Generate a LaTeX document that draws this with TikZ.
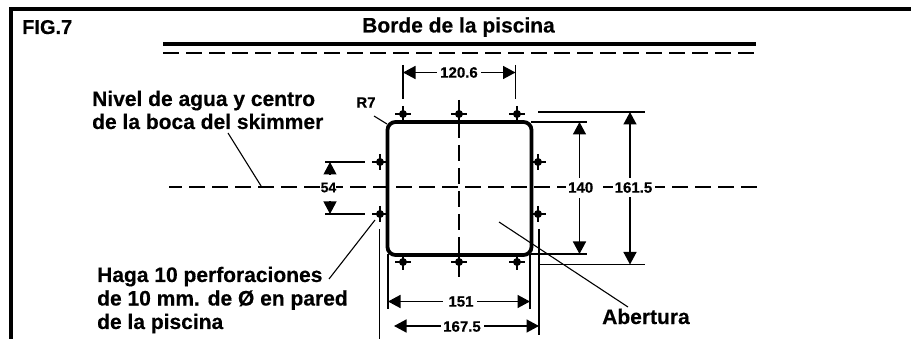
\documentclass[tikz,border=0pt]{standalone}
\usepackage{fontspec}
\setmainfont[BoldFeatures={FakeBold=0.4}]{Liberation Sans}
\usetikzlibrary{arrows.meta}
\tikzset{
  x=1pt,y=-1pt,
  thin line/.style={line width=1.1pt,black},
  dim/.style={line width=1.5pt,black,{Triangle[length=12.5pt,width=13pt]}-{Triangle[length=12.5pt,width=13pt]}},
  center line/.style={line width=2pt,black,dash pattern=on 16pt off 7pt},
  water line/.style={center line,dash phase=3pt},
  lab/.style={font=\bfseries\fontsize{21}{24}\selectfont,inner sep=0pt,anchor=base west},
  dimlab/.style={font=\bfseries\fontsize{15}{17}\selectfont,inner sep=0pt},
  mask/.style={fill=white,draw=none},
  holemark/.style={circle,fill=black,minimum size=8pt,inner sep=0pt},
}
\newcommand{\hole}[3]{%
  \node[holemark] (#1) at (#2,#3) {};
  \draw[thin line] (#2-8,#3) -- (#2+8,#3) (#2,#3-8) -- (#2,#3+8);
}
\begin{document}
\begin{tikzpicture}
\useasboundingbox (0,0) rectangle (911,339);
\fill[white] (0,0) rectangle (911,339);
% frame
\draw[line width=4pt,black] (10.5,339) -- (10.5,9) -- (911,9);
\node[lab,font=\bfseries\fontsize{20}{24}\selectfont] (fig) at (22,34) {FIG.7};
\node[lab,anchor=base] (borde) at (458.5,32.5) {Borde de la piscina};
% pool edge
\draw[line width=4pt,black] (163,44.5) -- (756,44.5);
\draw[center line] (163,53) -- (756,53);
% center lines
\coordinate (wl) at (169,187.5);
\coordinate (wr) at (757,187.5);
\draw[water line] (wl) -- (wr);
\draw[center line] (459,122) -- (459,255);
% opening
\draw[line width=3.8pt,black,rounded corners=8pt] (387.5,122) rectangle (531.5,255);
% holes
\hole{h1}{403}{114}
\hole{h2}{459}{114}
\hole{h3}{517}{114}
\hole{h4}{403}{262}
\hole{h5}{459}{262}
\hole{h6}{517}{262}
\hole{h7}{380}{162}
\hole{h8}{380}{214}
\hole{h9}{538}{162}
\hole{h10}{538}{214}
\draw[thin line] (459,100) -- (459,114) (459,262) -- (459,277);
% 120.6
\draw[thin line] (403,65) -- (403,99) (515.5,65) -- (515.5,99);
\draw[dim] (403,72.5) -- (515.5,72.5);
\fill[mask] (437,68) rectangle (481,78);
\node[dimlab] (d1) at (459,72.5) {120.6};
% 151
\draw[thin line] (388,254) -- (388,309) (530,254) -- (530,309);
\draw[dim] (388,301.5) -- (530,301.5);
\fill[mask] (443,296) rectangle (477,307);
\node[dimlab] (d2) at (461,301.5) {151};
% 167.5
\draw[thin line] (379.5,229) -- (379.5,339) (539,229) -- (539,335);
\draw[dim] (394,326) -- (539,326);
\fill[mask] (441,320) rectangle (484,332);
\node[dimlab] (d3) at (462,326.5) {167.5};
% 140
\draw[thin line] (531,122) -- (587,122) (531,254) -- (587,254);
\draw[dim] (579.5,122) -- (579.5,254);
\fill[mask] (566,178) rectangle (603,198);
\node[dimlab] (d4) at (580.7,187.5) {140};
% 161.5
\draw[thin line] (538,112) -- (645,112) (538,264.5) -- (645,264.5);
\draw[dim] (630,112) -- (630,264.5);
\fill[mask] (613,178) rectangle (655,197);
\node[dimlab] (d5) at (633.5,187.5) {161.5};
% 54
\draw[thin line] (325,162) -- (365,162) (325,214) -- (365,214);
\draw[line width=1.1pt,-{Triangle[length=12.5pt,width=13pt]}] (330,175) -- (330,162);
\draw[line width=1.1pt,-{Triangle[length=12.5pt,width=13pt]}] (330,201) -- (330,214);
\node[dimlab,fill=white,font=\bfseries\fontsize{14}{16}\selectfont] (d6) at (328.5,187.5) {54};
% labels
\node[lab] (nivel) at (92,106) {Nivel de agua y centro};
\node[lab] (boca) at (92,129) {de la boca del skimmer};
\node[dimlab] (r7) at (366,102.5) {R7};
\coordinate (nivelp) at (262,187.5);
\coordinate (nivelq) at (228,133);
\draw[thin line] (nivelq) -- (nivelp);
\coordinate (r7a) at (374,116);
\coordinate (r7b) at (387,124);
\draw[thin line] (r7a) -- (r7b);
\node[lab] (haga) at (97,282) {Haga 10 perforaciones};
\node[lab] (de10) at (97,305.5) {de 10 mm. de Ø en pared};
\node[lab] (pared) at (97,329) {de la piscina};
\coordinate (hagaa) at (329,279);
\coordinate (hagab) at (375,220);
\draw[thin line] (hagaa) -- (hagab);
\node[lab] (abert) at (602,324) {Abertura};
\coordinate (aba) at (499,222);
\coordinate (abb) at (628,307);
\draw[thin line] (aba) -- (abb);
\end{tikzpicture}
\end{document}
